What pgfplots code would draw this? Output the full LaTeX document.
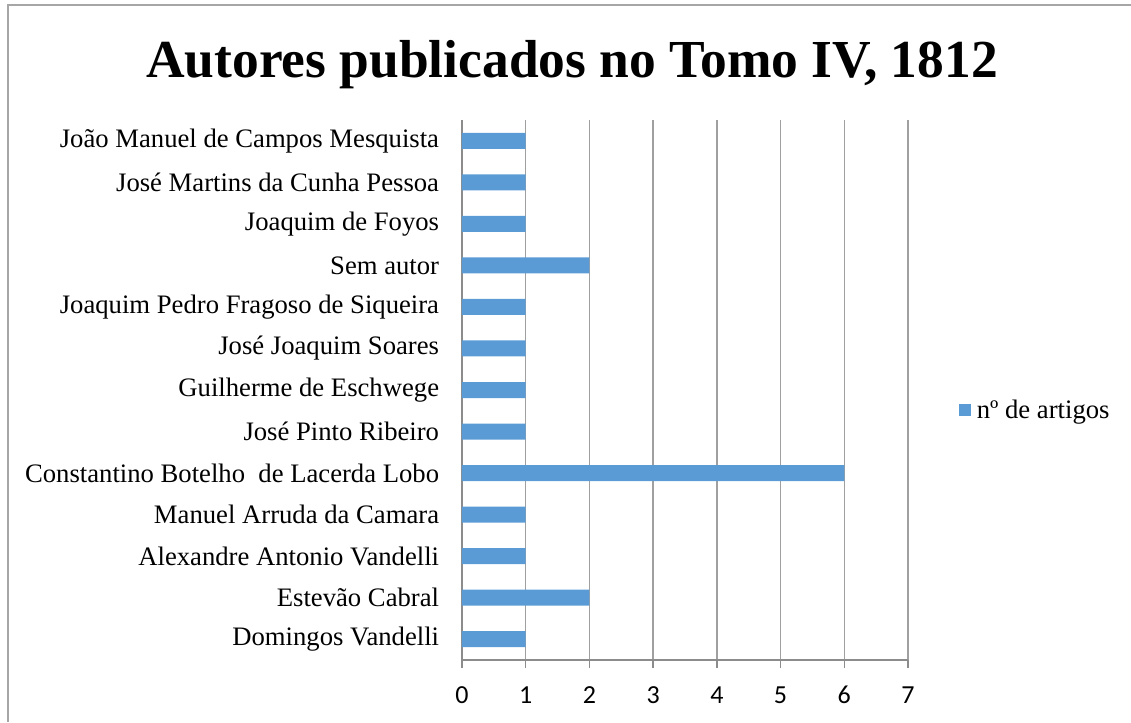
\documentclass[border=0pt]{standalone}
\usepackage{fontspec}
\setmainfont{Liberation Serif}
\newfontfamily\calibri{Carlito}
\usepackage{pgfplots}
\pgfplotsset{compat=1.18}
\definecolor{barblue}{HTML}{5B9BD5}
\definecolor{gridgray}{HTML}{A0A0A0}
\definecolor{axgray}{HTML}{8C8C8C}
\definecolor{framegray}{HTML}{A6A6A6}
\begin{document}
\begin{tikzpicture}[x=0.75pt,y=0.75pt]
\useasboundingbox (0,0) rectangle (1131,722);
\draw[framegray,line width=1.5pt] (8,0) -- (8,717) -- (1135,717);
\node[font=\bfseries\fontsize{40.1}{44}\selectfont] at (572,657) {Autores publicados no Tomo IV, 1812};
\begin{axis}[
  at={(346.5pt,46.5pt)}, anchor=south west,
  scale only axis, width=334.5pt, height=405pt,
  xbar, bar width=12pt,
  xmin=0, xmax=7, ymin=-0.5, ymax=12.5,
  axis x line=bottom, axis y line=left,
  axis line style={-, axgray, line width=1pt},
  xtick={0,...,7},
  xmajorgrids, grid style={gridgray, line width=1pt},
  major tick style={axgray, line width=1pt},
  minor tick style={axgray, line width=1pt},
  tick align=outside,
  major tick length=6pt,
  ytick={0,...,12},
  minor ytick={-0.5,0.5,...,12.5},
  ytick style={draw=none},
  minor tick length=6.5pt,
  yticklabels={Domingos Vandelli, Estevão Cabral, Alexandre Antonio Vandelli, Manuel Arruda da Camara, Constantino Botelho~ de Lacerda Lobo, José Pinto Ribeiro, Guilherme de Eschwege, José Joaquim Soares, Joaquim Pedro Fragoso de Siqueira, Sem autor, Joaquim de Foyos, José Martins da Cunha Pessoa, João Manuel de Campos Mesquista},
  yticklabel style={font=\fontsize{20}{22}\selectfont, inner sep=0pt, xshift=-11pt},
  /pgf/number format/assume math mode=true,
  xticklabel style={font=\calibri\fontsize{19.5}{20}\selectfont, inner sep=0pt, text height=12.3pt, text depth=0pt, yshift=-14pt},
  legend style={at={(1.1135,0.463)}, anchor=west, draw=none, inner sep=0pt,
    font=\fontsize{20}{22}\selectfont},
  legend image code/.code={\fill[barblue] (0pt,-4.5pt) rectangle (9pt,4.5pt);},
  clip=false,
]
\addplot[fill=barblue, draw=none] coordinates {
(1,0) (2,1) (1,2) (1,3) (6,4) (1,5) (1,6) (1,7) (1,8) (2,9) (1,10) (1,11) (1,12)};
\addlegendentry{\hspace{2.5pt}nº de artigos}
\end{axis}
\end{tikzpicture}
\end{document}
